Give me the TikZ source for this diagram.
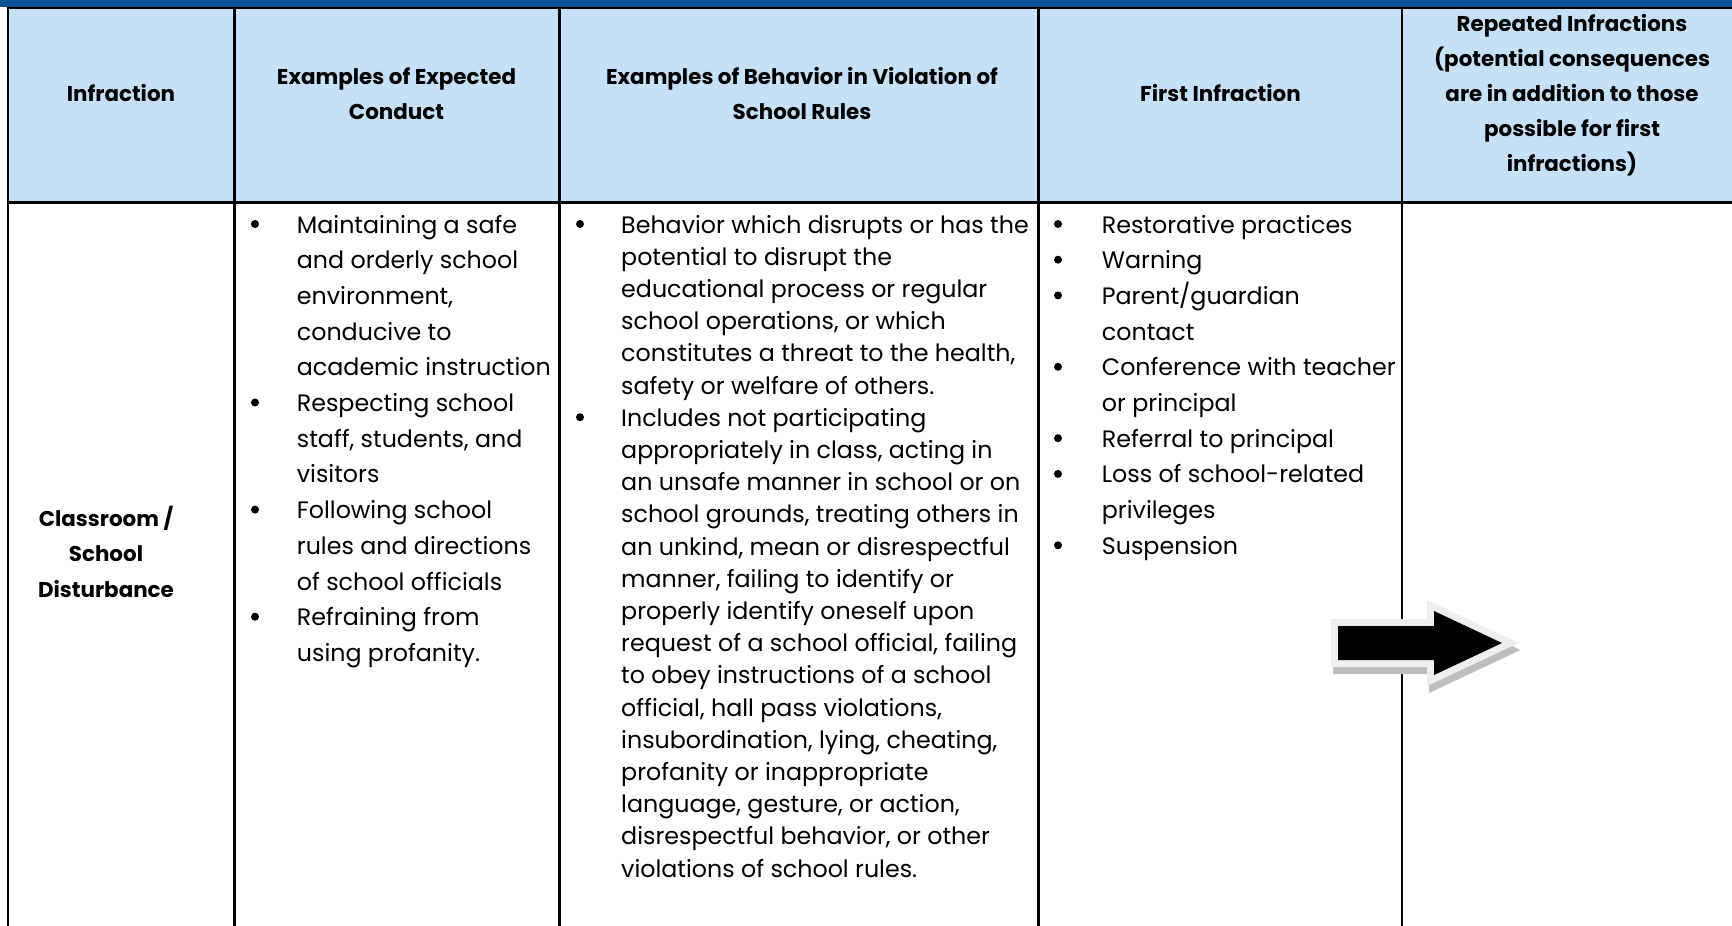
\documentclass[tikz,border=0pt]{standalone}
\usepackage{fontspec}
\setmainfont{Poppins}
\definecolor{barblue}{RGB}{14,80,148}
\definecolor{hdrblue}{RGB}{198,224,248}
\definecolor{arrowedge}{RGB}{238,238,238}
\definecolor{arrowshadow}{RGB}{190,190,190}
\newlength\wmeas
\begin{document}
\settowidth\wmeas{\fontsize{20pt}{24pt}\selectfont request of a school official, failing}%
\pgfmathsetmacro\bsz{20*396/\wmeas}%
\settowidth\wmeas{\fontsize{20pt}{24pt}\selectfont\bfseries (potential consequences}%
\pgfmathsetmacro\hsz{20*276/\wmeas}%
\begin{tikzpicture}[x=1pt,y=-1pt]
\useasboundingbox (0,0) rectangle (1732,926);
\tikzset{
  body/.style={font=\fontsize{\bsz pt}{\bsz pt}\selectfont, inner sep=0pt, anchor=base west},
  hdr/.style={font=\fontsize{\hsz pt}{\hsz pt}\selectfont\bfseries, inner sep=0pt, anchor=base},
  bul/.style={circle, fill=black, inner sep=0pt, minimum size=8pt},
  vrule/.style={line width=2.2pt, black},
  arrowpath/.style={line width=14pt, line join=miter},
}
% header background and top bar
\fill[hdrblue] (7.7,8) rectangle (1732,202);
\fill[barblue] (0,0) rectangle (1732,7);
\draw[line width=2.4pt] (6.6,8) -- (1732,8);
\draw[line width=3pt] (6.6,202) -- (1732,202);
\foreach \x in {7.7,234.5,559.5,1038.5,1402}
  \draw[vrule] (\x,7) -- (\x,926);
% header texts
\node[hdr] (h1) at (121,101) {Infraction};
\node[hdr] (h2a) at (396.5,84) {Examples of Expected};
\node[hdr] (h2b) at (396.5,119) {Conduct};
\node[hdr] (h3a) at (802,84) {Examples of Behavior in Violation of};
\node[hdr] (h3b) at (802,119) {School Rules};
\node[hdr] (h4) at (1220.5,101) {First Infraction};
\foreach \t [count=\i] in {{Repeated Infractions},{(potential consequences},{are in addition to those},{possible for first},{infractions)}}
  \node[hdr] (h5\i) at (1572,{31+35*(\i-1)}) {\t};
% column 1
\foreach \t [count=\i] in {{Classroom /},{School},{Disturbance}}
  \node[hdr] (a\i) at (106,{526+35.5*(\i-1)}) {\t};
% column 2
\foreach \t [count=\i] in {{Maintaining a safe},{and orderly school},{environment,},{conducive to},{academic instruction},{Respecting school},{staff, students, and},{visitors},{Following school},{rules and directions},{of school officials},{Refraining from},{using profanity.}}
  \node[body] (e\i) at (296.7,{233+35.7*(\i-1)}) {\t};
\foreach \i in {1,6,9,12}
  \node[bul] (eb\i) at (255,{233+35.7*(\i-1)-9}) {};
% column 3
\foreach \t [count=\i] in {{Behavior which disrupts or has the},{potential to disrupt the},{educational process or regular},{school operations, or which},{constitutes a threat to the health,},{safety or welfare of others.},{Includes not participating},{appropriately in class, acting in},{an unsafe manner in school or on},{school grounds, treating others in},{an unkind, mean or disrespectful},{manner, failing to identify or},{properly identify oneself upon},{request of a school official, failing},{to obey instructions of a school},{official, hall pass violations,},{insubordination, lying, cheating,},{profanity or inappropriate},{language, gesture, or action,},{disrespectful behavior, or other},{violations of school rules.}}
  \node[body] (v\i) at (621,{233+32.2*(\i-1)}) {\t};
\foreach \i in {1,7}
  \node[bul] (vb\i) at (580,{233+32.2*(\i-1)-9}) {};
% column 4
\foreach \t [count=\i] in {{Restorative practices},{Warning},{Parent/guardian},{contact},{Conference with teacher},{or principal},{Referral to principal},{Loss of school-related},{privileges},{Suspension}}
  \node[body] (f\i) at (1101.7,{233+35.7*(\i-1)}) {\t};
\foreach \i in {1,2,3,5,7,8,10}
  \node[bul] (fb\i) at (1058,{233+35.7*(\i-1)-9}) {};
% block arrow
\begin{scope}[shift={(2,7)}]
  \filldraw[arrowshadow, arrowpath] (1338,626) -- (1434,626) -- (1434,611) -- (1502,643) -- (1434,675) -- (1434,660) -- (1338,660) -- cycle;
\end{scope}
\draw[arrowedge, arrowpath] (1338,626) -- (1434,626) -- (1434,611) -- (1502,643) -- (1434,675) -- (1434,660) -- (1338,660) -- cycle;
\fill[black] (1338,626) -- (1434,626) -- (1434,611) -- (1502,643) -- (1434,675) -- (1434,660) -- (1338,660) -- cycle;
\end{tikzpicture}
\end{document}
